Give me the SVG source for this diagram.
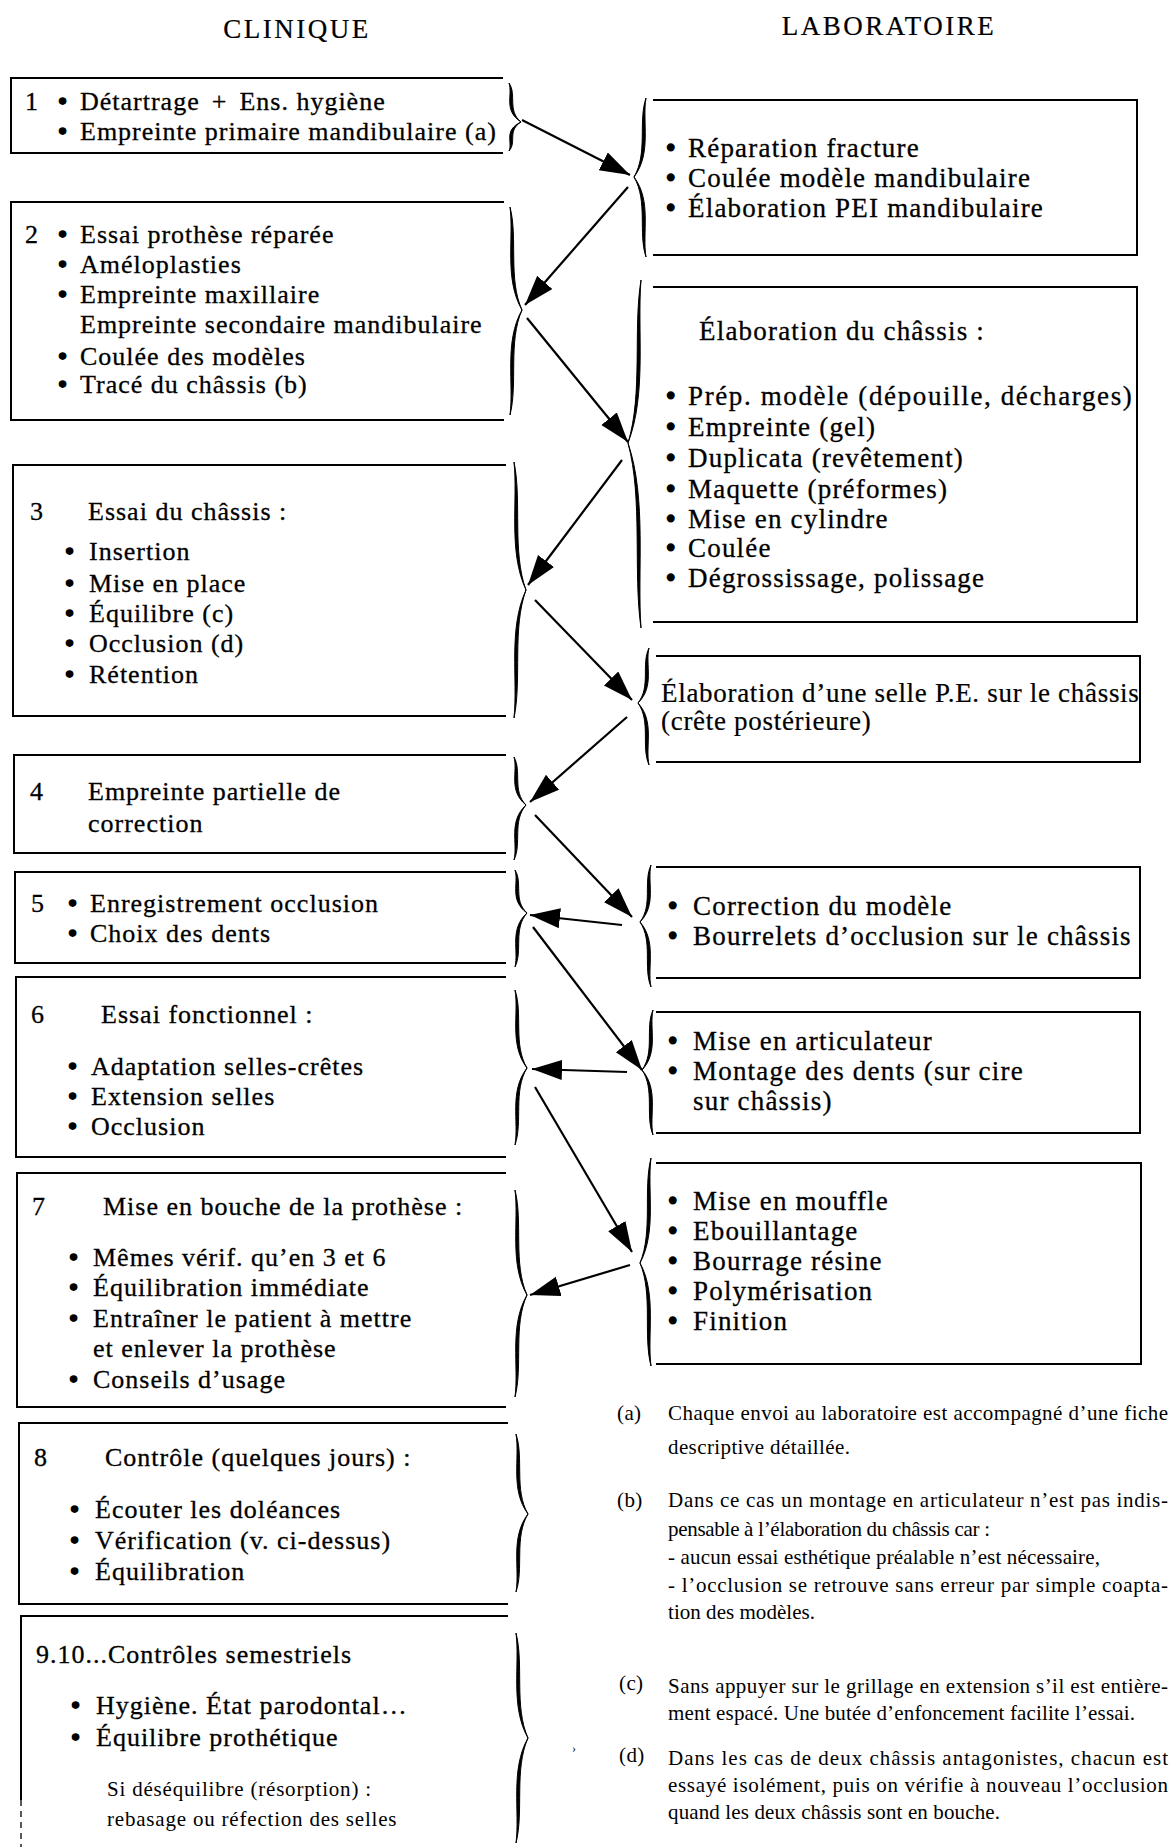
<svg xmlns="http://www.w3.org/2000/svg" width="1173" height="1847" viewBox="0 0 1173 1847">
<style>
.t{font-family:"Liberation Serif","Times New Roman",serif;fill:#000}
.c{font-size:26px;letter-spacing:1px;stroke:#000;stroke-width:0.3px}
.l{font-size:27px;letter-spacing:1.2px;stroke:#000;stroke-width:0.3px}
.l3{font-size:27px;letter-spacing:0.7px;stroke:#000;stroke-width:0.2px}
.bu{stroke-width:1.6px;letter-spacing:0}
.h{font-size:27px;letter-spacing:2.5px;text-anchor:middle;stroke:#000;stroke-width:0.2px}
.s{font-size:21px;letter-spacing:0.8px}
.f{font-size:21px;letter-spacing:0.4px}
.fj{font-size:21px}
.box{fill:none;stroke:#000;stroke-width:2}
.br{fill:#000;stroke:#000;stroke-width:1;stroke-linejoin:round}
.ar{fill:none;stroke:#000;stroke-width:2.2;marker-end:url(#ah)}
</style>
<defs>
<marker id="ah" markerUnits="userSpaceOnUse" markerWidth="32" markerHeight="22" refX="30" refY="10" orient="auto"><path d="M0,0 L30,10 L0,20 Z" fill="#000"/></marker>
</defs>
<rect width="1173" height="1847" fill="#fff"/>

<g id="headers">
<text class="t h" x="297" y="38">CLINIQUE</text>
<text class="t h" x="889" y="35">LABORATOIRE</text>
</g>

<g id="clinique-1">
<path class="box" d="M503,78 H11 V153 H503"/>
<path class="br" d="M509,83 C517,94.7 507,110.3 521,122 C507,130.7 517,142.3 509,151 C513,142.3 503,130.7 521,122 C503,110.3 513,94.7 509,83 Z"/>
<text class="t c" x="25" y="110">1<tspan class="bu" x="58">•</tspan><tspan x="80">Détartrage</tspan><tspan dx="12">+</tspan><tspan dx="12">Ens. hygiène</tspan></text>
<text class="t c" x="58" y="140"><tspan class="bu">•</tspan><tspan x="80">Empreinte primaire mandibulaire (a)</tspan></text>
</g>

<g id="clinique-2">
<path class="box" d="M504,202 H11 V420 H504"/>
<path class="br" d="M510,207 C518,237.9 508,279.1 522,310 C508,341.5 518,383.5 510,415 C514,383.5 504,341.5 522,310 C504,279.1 514,237.9 510,207 Z"/>
<text class="t c" x="25" y="243">2<tspan class="bu" x="58">•</tspan><tspan x="80">Essai prothèse réparée</tspan></text>
<text class="t c" x="58" y="273"><tspan class="bu">•</tspan><tspan x="80">Améloplasties</tspan></text>
<text class="t c" x="58" y="303"><tspan class="bu">•</tspan><tspan x="80">Empreinte maxillaire</tspan></text>
<text class="t c" x="80" y="333">Empreinte secondaire mandibulaire</text>
<text class="t c" x="58" y="365"><tspan class="bu">•</tspan><tspan x="80">Coulée des modèles</tspan></text>
<text class="t c" x="58" y="393"><tspan class="bu">•</tspan><tspan x="80">Tracé du châssis (b)</tspan></text>
</g>

<g id="clinique-3">
<path class="box" d="M506,465 H13 V716 H506"/>
<path class="br" d="M514,462 C522,500.4 512,551.6 526,590 C512,628.4 522,679.6 514,718 C518,679.6 508,628.4 526,590 C508,551.6 518,500.4 514,462 Z"/>
<text class="t c" x="30" y="520">3<tspan x="88">Essai du châssis :</tspan></text>
<text class="t c" x="65" y="560"><tspan class="bu">•</tspan><tspan x="89">Insertion</tspan></text>
<text class="t c" x="65" y="592"><tspan class="bu">•</tspan><tspan x="89">Mise en place</tspan></text>
<text class="t c" x="65" y="622"><tspan class="bu">•</tspan><tspan x="89">Équilibre (c)</tspan></text>
<text class="t c" x="65" y="652"><tspan class="bu">•</tspan><tspan x="89">Occlusion (d)</tspan></text>
<text class="t c" x="65" y="683"><tspan class="bu">•</tspan><tspan x="89">Rétention</tspan></text>
</g>

<g id="clinique-4">
<path class="box" d="M506,755 H14 V853 H506"/>
<path class="br" d="M514,757 C522,771.4 512,790.6 526,805 C512,821.5 522,843.5 514,860 C518,843.5 508,821.5 526,805 C508,790.6 518,771.4 514,757 Z"/>
<text class="t c" x="30" y="800">4<tspan x="88">Empreinte partielle de</tspan></text>
<text class="t c" x="88" y="832">correction</text>
</g>

<g id="clinique-5">
<path class="box" d="M506,872 H15 V963 H506"/>
<path class="br" d="M515,870 C523,882.9 513,900.1 527,913 C513,929.2 523,950.8 515,967 C519,950.8 509,929.2 527,913 C509,900.1 519,882.9 515,870 Z"/>
<text class="t c" x="31" y="912">5<tspan class="bu" x="68">•</tspan><tspan x="90">Enregistrement occlusion</tspan></text>
<text class="t c" x="68" y="942"><tspan class="bu">•</tspan><tspan x="90">Choix des dents</tspan></text>
</g>

<g id="clinique-6">
<path class="box" d="M506,977 H16 V1157 H506"/>
<path class="br" d="M515,990 C523,1013.4 513,1044.6 527,1068 C513,1091.1 523,1121.9 515,1145 C519,1121.9 509,1091.1 527,1068 C509,1044.6 519,1013.4 515,990 Z"/>
<text class="t c" x="31" y="1023">6<tspan x="101">Essai fonctionnel :</tspan></text>
<text class="t c" x="68" y="1075"><tspan class="bu">•</tspan><tspan x="91">Adaptation selles-crêtes</tspan></text>
<text class="t c" x="68" y="1105"><tspan class="bu">•</tspan><tspan x="91">Extension selles</tspan></text>
<text class="t c" x="68" y="1135"><tspan class="bu">•</tspan><tspan x="91">Occlusion</tspan></text>
</g>

<g id="clinique-7">
<path class="box" d="M506,1173 H17 V1407 H506"/>
<path class="br" d="M515,1190 C523,1221.5 513,1263.5 527,1295 C513,1325.6 523,1366.4 515,1397 C519,1366.4 509,1325.6 527,1295 C509,1263.5 519,1221.5 515,1190 Z"/>
<text class="t c" x="32" y="1215">7<tspan x="103">Mise en bouche de la prothèse :</tspan></text>
<text class="t c" x="69" y="1266"><tspan class="bu">•</tspan><tspan x="93">Mêmes vérif. qu’en 3 et 6</tspan></text>
<text class="t c" x="69" y="1296"><tspan class="bu">•</tspan><tspan x="93">Équilibration immédiate</tspan></text>
<text class="t c" x="69" y="1327"><tspan class="bu">•</tspan><tspan x="93">Entraîner le patient à mettre</tspan></text>
<text class="t c" x="93" y="1357">et enlever la prothèse</text>
<text class="t c" x="69" y="1388"><tspan class="bu">•</tspan><tspan x="93">Conseils d’usage</tspan></text>
</g>

<g id="clinique-8">
<path class="box" d="M508,1423 H19 V1604 H508"/>
<path class="br" d="M516,1434 C524,1458 514,1490 528,1514 C514,1537.4 524,1568.6 516,1592 C520,1568.6 510,1537.4 528,1514 C510,1490 520,1458 516,1434 Z"/>
<text class="t c" x="34" y="1466">8<tspan x="105">Contrôle (quelques jours) :</tspan></text>
<text class="t c" x="70" y="1518"><tspan class="bu">•</tspan><tspan x="95">Écouter les doléances</tspan></text>
<text class="t c" x="70" y="1549"><tspan class="bu">•</tspan><tspan x="95">Vérification (v. ci-dessus)</tspan></text>
<text class="t c" x="70" y="1580"><tspan class="bu">•</tspan><tspan x="95">Équilibration</tspan></text>
</g>

<g id="clinique-9">
<path class="box" d="M508,1616 H21 V1800"/>
<path d="M21,1800 V1847" fill="none" stroke="#000" stroke-width="1.3" stroke-dasharray="6 5"/>
<path class="br" d="M516,1633 C524,1664.5 514,1706.5 528,1738 C514,1769.5 524,1811.5 516,1843 C520,1811.5 510,1769.5 528,1738 C510,1706.5 520,1664.5 516,1633 Z"/>
<text class="t c" x="36" y="1663">9.10...Contrôles semestriels</text>
<text class="t c" x="71" y="1714"><tspan class="bu">•</tspan><tspan x="96">Hygiène. État parodontal…</tspan></text>
<text class="t c" x="71" y="1746"><tspan class="bu">•</tspan><tspan x="96">Équilibre prothétique</tspan></text>
<text class="t s" x="107" y="1796">Si déséquilibre (résorption) :</text>
<text class="t s" x="107" y="1826">rebasage ou réfection des selles</text>
</g>

<g id="labo-1">
<path class="box" d="M653,100 H1137 V255 H653"/>
<path class="br" d="M646,98 C638,121.7 648,153.3 634,177 C648,201 638,233 646,257 C642,233 652,201 634,177 C652,153.3 642,121.7 646,98 Z"/>
<text class="t l" x="666" y="157"><tspan class="bu">•</tspan><tspan x="688">Réparation fracture</tspan></text>
<text class="t l" x="666" y="187"><tspan class="bu">•</tspan><tspan x="688">Coulée modèle mandibulaire</tspan></text>
<text class="t l" x="666" y="217"><tspan class="bu">•</tspan><tspan x="688">Élaboration PEI mandibulaire</tspan></text>
</g>

<g id="labo-2">
<path class="box" d="M653,287 H1137 V622 H653"/>
<path class="br" d="M641,280 C633,328.9 643,394.1 628,443 C643,498.5 633,572.5 641,628 C637,572.5 647,498.5 628,443 C647,394.1 637,328.9 641,280 Z"/>
<text class="t l" x="699" y="340">Élaboration du châssis :</text>
<text class="t l" x="666" y="405"><tspan class="bu">•</tspan><tspan x="688" textLength="445" lengthAdjust="spacing">Prép. modèle (dépouille, décharges)</tspan></text>
<text class="t l" x="666" y="436"><tspan class="bu">•</tspan><tspan x="688">Empreinte (gel)</tspan></text>
<text class="t l" x="666" y="467"><tspan class="bu">•</tspan><tspan x="688">Duplicata (revêtement)</tspan></text>
<text class="t l" x="666" y="498"><tspan class="bu">•</tspan><tspan x="688">Maquette (préformes)</tspan></text>
<text class="t l" x="666" y="528"><tspan class="bu">•</tspan><tspan x="688">Mise en cylindre</tspan></text>
<text class="t l" x="666" y="557"><tspan class="bu">•</tspan><tspan x="688">Coulée</tspan></text>
<text class="t l" x="666" y="587"><tspan class="bu">•</tspan><tspan x="688">Dégrossissage, polissage</tspan></text>
</g>

<g id="labo-3">
<path class="box" d="M656,656 H1140 V762 H656"/>
<path class="br" d="M649,648 C641,664.5 651,686.5 638,703 C651,721.6 641,746.4 649,765 C645,746.4 655,721.6 638,703 C655,686.5 645,664.5 649,648 Z"/>
<text class="t l3" x="661" y="702">Élaboration d’une selle P.E. sur le châssis</text>
<text class="t l3" x="661" y="730">(crête postérieure)</text>
</g>

<g id="labo-4">
<path class="box" d="M656,867 H1140 V978 H656"/>
<path class="br" d="M651,865 C643,882.1 653,904.9 640,922 C653,941.5 643,967.5 651,987 C647,967.5 657,941.5 640,922 C657,904.9 647,882.1 651,865 Z"/>
<text class="t l" x="668" y="915"><tspan class="bu">•</tspan><tspan x="693">Correction du modèle</tspan></text>
<text class="t l" x="668" y="945"><tspan class="bu">•</tspan><tspan x="693">Bourrelets d’occlusion sur le châssis</tspan></text>
</g>

<g id="labo-5">
<path class="box" d="M656,1012 H1140 V1133 H656"/>
<path class="br" d="M653,1010 C645,1028 655,1052 642,1070 C655,1089.5 645,1115.5 653,1135 C649,1115.5 659,1089.5 642,1070 C659,1052 649,1028 653,1010 Z"/>
<text class="t l" x="668" y="1050"><tspan class="bu">•</tspan><tspan x="693">Mise en articulateur</tspan></text>
<text class="t l" x="668" y="1080"><tspan class="bu">•</tspan><tspan x="693">Montage des dents (sur cire</tspan></text>
<text class="t l" x="693" y="1110">sur châssis)</text>
</g>

<g id="labo-6">
<path class="box" d="M656,1163 H1141 V1364 H656"/>
<path class="br" d="M651,1158 C643,1189.5 653,1231.5 640,1263 C653,1293.9 643,1335.1 651,1366 C647,1335.1 657,1293.9 640,1263 C657,1231.5 647,1189.5 651,1158 Z"/>
<text class="t l" x="668" y="1210"><tspan class="bu">•</tspan><tspan x="693">Mise en mouffle</tspan></text>
<text class="t l" x="668" y="1240"><tspan class="bu">•</tspan><tspan x="693">Ebouillantage</tspan></text>
<text class="t l" x="668" y="1270"><tspan class="bu">•</tspan><tspan x="693">Bourrage résine</tspan></text>
<text class="t l" x="668" y="1300"><tspan class="bu">•</tspan><tspan x="693">Polymérisation</tspan></text>
<text class="t l" x="668" y="1330"><tspan class="bu">•</tspan><tspan x="693">Finition</tspan></text>
</g>

<g id="connectors">
<path class="ar" d="M522,120 L630,175"/>
<path class="ar" d="M628,187 L525,305"/>
<path class="ar" d="M527,318 L628,442"/>
<path class="ar" d="M622,460 L528,585"/>
<path class="ar" d="M535,600 L632,700"/>
<path class="ar" d="M627,717 L530,802"/>
<path class="ar" d="M535,815 L632,917"/>
<path class="ar" d="M622,925 L530,915"/>
<path class="ar" d="M533,927 L642,1070"/>
<path class="ar" d="M627,1072 L532,1069"/>
<path class="ar" d="M535,1087 L632,1252"/>
<path class="ar" d="M630,1265 L530,1295"/>
</g>

<g id="notes">
<text class="t f" x="617" y="1420">(a)</text>
<text class="t fj" x="668" y="1420" textLength="500" lengthAdjust="spacing">Chaque envoi au laboratoire est accompagné d’une fiche</text>
<text class="t fj" x="668" y="1454" textLength="182" lengthAdjust="spacing">descriptive détaillée.</text>
<text class="t f" x="617" y="1507">(b)</text>
<text class="t fj" x="668" y="1507" textLength="500" lengthAdjust="spacing">Dans ce cas un montage en articulateur n’est pas indis-</text>
<text class="t fj" x="668" y="1536" textLength="322" lengthAdjust="spacing">pensable à l’élaboration du châssis car :</text>
<text class="t fj" x="668" y="1564" textLength="432" lengthAdjust="spacing">- aucun essai esthétique préalable n’est nécessaire,</text>
<text class="t fj" x="668" y="1592" textLength="500" lengthAdjust="spacing">- l’occlusion se retrouve sans erreur par simple coapta-</text>
<text class="t fj" x="668" y="1619" textLength="147" lengthAdjust="spacing">tion des modèles.</text>
<text class="t f" x="619" y="1690">(c)</text>
<text class="t fj" x="668" y="1693" textLength="500" lengthAdjust="spacing">Sans appuyer sur le grillage en extension s’il est entière-</text>
<text class="t fj" x="668" y="1720" textLength="467" lengthAdjust="spacing">ment espacé. Une butée d’enfoncement facilite l’essai.</text>
<text class="t f" x="619" y="1762">(d)</text>
<text class="t fj" x="668" y="1765" textLength="500" lengthAdjust="spacing">Dans les cas de deux châssis antagonistes, chacun est</text>
<text class="t fj" x="668" y="1792" textLength="500" lengthAdjust="spacing">essayé isolément, puis on vérifie à nouveau l’occlusion</text>
<text class="t fj" x="668" y="1819" textLength="332" lengthAdjust="spacing">quand les deux châssis sont en bouche.</text>
<text class="t" x="572" y="1752" font-size="12" fill="#555">›</text>
</g>
</svg>
